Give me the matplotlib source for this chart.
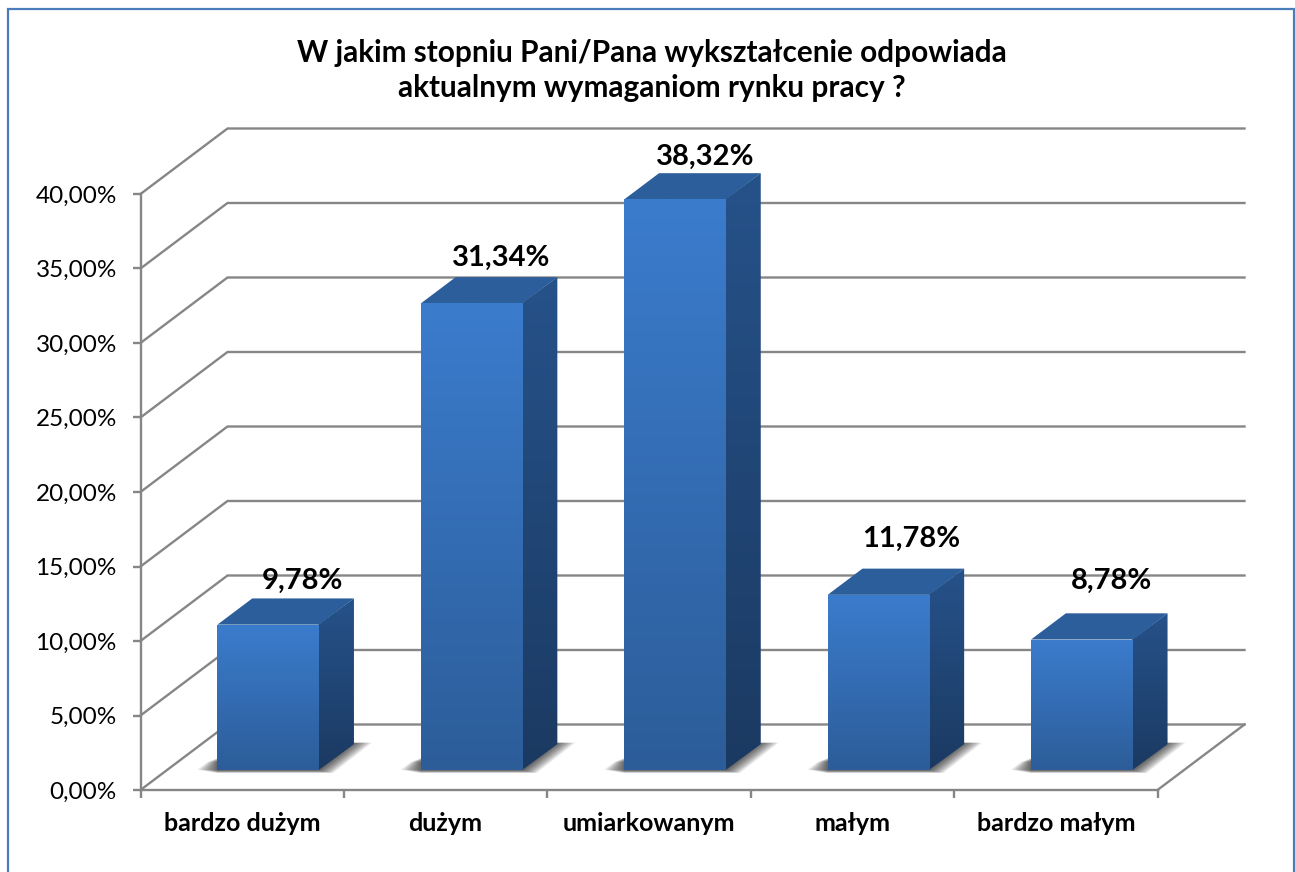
import matplotlib
matplotlib.use("Agg")
import matplotlib.pyplot as plt
import numpy as np
from matplotlib.colors import LinearSegmentedColormap
from matplotlib.patches import Polygon, Rectangle

categories = ["bardzo dużym", "dużym", "umiarkowanym", "małym", "bardzo małym"]
values = [9.78, 31.34, 38.32, 11.78, 8.78]
value_labels = ["9,78%", "31,34%", "38,32%", "11,78%", "8,78%"]
y_ticks = [0, 5, 10, 15, 20, 25, 30, 35, 40]
y_tick_labels = ["0,00%", "5,00%", "10,00%", "15,00%", "20,00%", "25,00%", "30,00%", "35,00%", "40,00%"]
title = "W jakim stopniu Pani/Pana wykształcenie odpowiada\naktualnym wymaganiom rynku pracy ?"

W, H = 1295, 872
# front plane of the 3d box, in pixels of the picture
X0, PX_CAT = 140.5, 203.4
Y0, PX_PCT = 790, 14.9
DX = 87 / PX_CAT   # depth of the box in data units
DY = 65.5 / PX_PCT
GRID = "#868686"
LW = 1.7

plt.rcParams["font.family"] = ["Lato", "DejaVu Sans"]

fig = plt.figure(figsize=(W / 100, H / 100), dpi=100)
ax = fig.add_axes([0, 0, 1, 1])
ax.set_xlim(-X0 / PX_CAT, (W - X0) / PX_CAT)
ax.set_ylim(-(H - Y0) / PX_PCT, Y0 / PX_PCT)
ax.patch.set_visible(False)

# outer frame, its bottom edge is cut off by the picture
fig.add_artist(Rectangle((8 / W, -10 / H), 1286 / W, (H + 1) / H, transform=fig.transFigure,
                         fill=False, ec="#4a7ebb", lw=1.6))

# walls and floor
n = len(categories)
for t in y_ticks:
    ax.plot([0, DX, n + DX], [t, t + DY, t + DY], color=GRID, lw=LW, zorder=1, solid_joinstyle="miter")
ax.plot([n, n + DX], [0, DY], color=GRID, lw=LW, zorder=1)

# axes lines and ticks
for s in ["top", "right"]:
    ax.spines[s].set_visible(False)
ax.spines["left"].set_position(("data", 0))
ax.spines["bottom"].set_position(("data", 0))
ax.spines["left"].set_bounds(0, 40)
ax.spines["bottom"].set_bounds(0, n)
for s in ["left", "bottom"]:
    ax.spines[s].set_color(GRID)
    ax.spines[s].set_linewidth(LW)
    ax.spines[s].set_zorder(2)
ax.set_yticks(y_ticks)
ax.set_yticklabels(y_tick_labels, fontsize=17.5, color="black")
ax.tick_params(axis="y", length=6, width=LW, color=GRID, pad=11)
ax.set_xticks(np.arange(n + 1))
ax.set_xticklabels([])
ax.tick_params(axis="x", which="major", length=6, width=LW, color=GRID)
ax.set_xticks(np.arange(n) + 0.5, minor=True)
ax.set_xticklabels(categories, minor=True, fontsize=18, fontweight="bold")
ax.tick_params(axis="x", which="minor", length=0, pad=16)

# bars
front_cmap = LinearSegmentedColormap.from_list("front", ["#3b7ccd", "#2c5d99"])
side_cmap = LinearSegmentedColormap.from_list("side", ["#26528a", "#1b3a62"])
grad = np.linspace(0, 1, 256).reshape(-1, 1)
bar_w = 0.5
floor = 0.3 * DY
bx = np.arange(n) + 0.5 + 0.3 * DX
ddx, ddy = 0.4 * DX, 0.4 * DY
bars = ax.bar(bx, values, bar_w, bottom=floor, color="none", zorder=5)

# where the value labels sit against the bar top, px
label_lift = [18, 19, 16, 30, 32]
label_shift = [-1, -5, -5, -2, -5]

for i, (b, v) in enumerate(zip(bars, values)):
    l, r = b.get_x(), b.get_x() + bar_w
    top = floor + v

    # soft shadow on the floor
    steps = 16
    for k in range(steps):
        grow = 1 - k / steps
        sh = Polygon([(l - 0.1 * grow, floor + 0.05), (l - 0.05 * grow, floor + 0.55),
                      (l + ddx, floor + ddy),
                      (r + ddx + 0.09 * grow, floor + ddy + 0.1),
                      (r + 0.07 * grow, floor - 0.18 * grow), (l, floor - 0.18 * grow)],
                     fc="black", ec="none", alpha=0.05, zorder=3)
        ax.add_patch(sh)

    side = Polygon([(r - 0.004, floor), (r + ddx, floor + ddy), (r + ddx, top + ddy), (r - 0.004, top)],
                   fc="none", ec="none", zorder=4)
    ax.add_patch(side)
    im = ax.imshow(grad, cmap=side_cmap, extent=[r - 0.004, r + ddx, floor, top + ddy], aspect="auto",
                   origin="upper", zorder=4)
    im.set_clip_path(side)

    ax.add_patch(Polygon([(l, top), (r, top), (r + ddx, top + ddy), (l + ddx, top + ddy)],
                         fc="#2b5e9a", ec="none", zorder=4))

    im = ax.imshow(grad, cmap=front_cmap, extent=[l, r, floor, top], aspect="auto", origin="upper", zorder=4.5)
    im.set_clip_path(b)

    ax.annotate(value_labels[i], (b.get_x() + bar_w / 2 + ddx, top + ddy),
                xytext=(label_shift[i] * 0.72, label_lift[i] * 0.72), textcoords="offset points",
                ha="center", va="center", fontsize=21, fontweight="bold", zorder=6)

ax.set_xlim(-X0 / PX_CAT, (W - X0) / PX_CAT)
ax.set_ylim(-(H - Y0) / PX_PCT, Y0 / PX_PCT)

fig.text(651.5 / W, 1 - 70.5 / H, title, ha="center", va="center", fontsize=21.4, fontweight="bold",
         linespacing=1.32)

fig.savefig("out.png", dpi=100, facecolor="white")
